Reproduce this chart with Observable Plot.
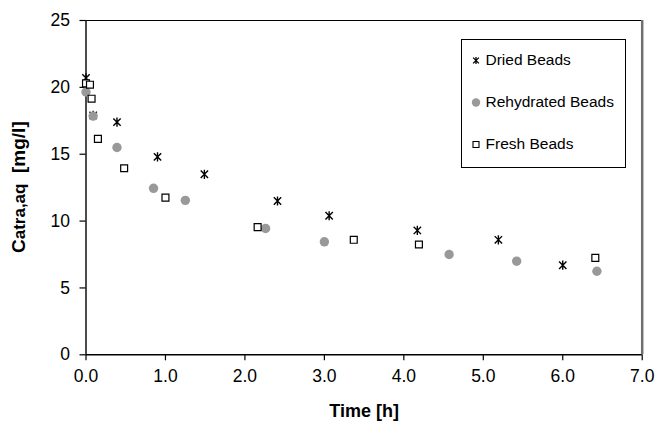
<!DOCTYPE html>
<html>
<head>
<meta charset="utf-8">
<script src="https://cdn.jsdelivr.net/npm/d3@7"></script>
<script src="https://cdn.jsdelivr.net/npm/@observablehq/plot@0.6"></script>
<style>
  html, body { margin: 0; padding: 0; background: white; }
</style>
</head>
<body>
<div id="chart"></div>
<script>
// ---- data ----
const seriesNames = ["Dried Beads", "Rehydrated Beads", "Fresh Beads"];

const driedTime = [0.00, 0.09, 0.39, 0.90, 1.49, 2.41, 3.06, 4.17, 5.19, 6.00];
const driedConc = [20.7, 17.9, 17.4, 14.8, 13.5, 11.5, 10.4, 9.3, 8.6, 6.7];

const rehydTime = [0.00, 0.09, 0.39, 0.85, 1.25, 2.26, 3.00, 4.57, 5.42, 6.43];
const rehydConc = [19.65, 17.85, 15.5, 12.45, 11.55, 9.45, 8.45, 7.5, 7.0, 6.25];

const freshTime = [0.00, 0.05, 0.07, 0.15, 0.48, 1.00, 2.16, 3.37, 4.19, 6.41];
const freshConc = [20.3, 20.2, 19.15, 16.15, 13.95, 11.75, 9.55, 8.6, 8.25, 7.25];

const xDomain = [0, 7];
const yDomain = [0, 25];
const xTicks = [0, 1, 2, 3, 4, 5, 6, 7];
const yTicks = [0, 5, 10, 15, 20, 25];
const xLabel = "Time [h]";
const yLabelMain = "C";
const yLabelSub = "atra,aq";
const yLabelUnit = "  [mg/l]";

// ---- helpers ----
const toRows = (t, c) => t.map((d, i) => ({time: d, conc: c[i]}));
const dried = toRows(driedTime, driedConc);
const rehyd = toRows(rehydTime, rehydConc);
const fresh = toRows(freshTime, freshConc);

// Excel-like star marker: "x" with a vertical bar
const starSymbol = {
  draw(ctx, size) {
    const r = Math.sqrt(size / Math.PI);
    const a = r * 0.8;
    ctx.moveTo(-a, -a); ctx.lineTo(a, a);
    ctx.moveTo(-a, a); ctx.lineTo(a, -a);
    ctx.moveTo(0, -r); ctx.lineTo(0, r);
  }
};

const FONT = "'Liberation Sans', Arial, Helvetica, sans-serif";
const circleColor = "#999999";

const plot = Plot.plot({
  width: 656,
  height: 428,
  marginLeft: 85.5,
  marginRight: 14.3,
  marginTop: 20,
  marginBottom: 73.7,
  x: {domain: xDomain},
  y: {domain: yDomain},
  style: {fontFamily: FONT, background: "white", color: "black"},
  marks: [
    Plot.ruleY([yDomain[1]], {stroke: "black", strokeWidth: 1.2}),
    Plot.axisX({ticks: xTicks, tickFormat: d => d.toFixed(1), tickSize: 6, tickPadding: 9,
                fontSize: 17.5, label: null, strokeWidth: 1.2}),
    Plot.axisY({ticks: yTicks, tickSize: 6, tickPadding: 10, fontSize: 17.5, label: null, strokeWidth: 1.2}),
    Plot.ruleX([xDomain[1]], {stroke: "#707070", strokeWidth: 2.5, y1: yDomain[0], y2: yDomain[1]}),
    Plot.ruleX([xDomain[0]], {stroke: "black", strokeWidth: 1.4}),
    Plot.ruleY([yDomain[0]], {stroke: "black", strokeWidth: 1.4}),
    Plot.dot(dried, {x: "time", y: "conc", symbol: starSymbol, r: 4.6, fill: "none", stroke: "black", strokeWidth: 1.4}),
    Plot.dot(rehyd, {x: "time", y: "conc", symbol: "circle", r: 4.7, fill: circleColor, stroke: "none"}),
    Plot.dot(fresh, {x: "time", y: "conc", symbol: "square", r: 3.9, fill: "white", stroke: "black", strokeWidth: 1.2}),
    Plot.text([xLabel], {frameAnchor: "bottom", dy: 62, fontWeight: "bold", fontSize: 18})
  ]
});

const svg = d3.select(plot);

// y-axis title with smaller "atra,aq" part
const yt = svg.append("text")
  .attr("transform", `translate(25, ${(20 + 354.3) / 2}) rotate(-90)`)
  .attr("text-anchor", "middle")
  .attr("font-family", FONT)
  .attr("font-weight", "bold")
  .attr("font-size", 19)
  .style("white-space", "pre")
  .attr("fill", "black");
yt.append("tspan").text(yLabelMain);
yt.append("tspan").attr("font-size", 17).text(yLabelSub);
yt.append("tspan").text(yLabelUnit);

// legend
const lg = svg.append("g").attr("font-family", FONT).attr("font-size", 15.5).attr("text-anchor", "start");
lg.append("rect").attr("x", 461.5).attr("y", 39.5).attr("width", 164).attr("height", 128)
  .attr("fill", "white").attr("stroke", "black").attr("stroke-width", 1);
const legendSymbols = [
  {type: starSymbol, size: Math.PI * 3.6 * 3.6, fill: "none", stroke: "black", sw: 1.3},
  {type: d3.symbolCircle, size: Math.PI * 4.2 * 4.2, fill: circleColor, stroke: "none", sw: 0},
  {type: d3.symbolSquare, size: 36, fill: "white", stroke: "black", sw: 1.1}
];
seriesNames.forEach((name, i) => {
  const cy = 59.5 + i * 42;
  const s = legendSymbols[i];
  lg.append("path")
    .attr("transform", `translate(476, ${cy + 1})`)
    .attr("d", d3.symbol(s.type, s.size)())
    .attr("fill", s.fill).attr("stroke", s.stroke).attr("stroke-width", s.sw);
  lg.append("text").attr("x", 485.5).attr("y", cy).attr("dy", "0.35em")
    .attr("text-anchor", "start").attr("fill", "black").text(name);
});

document.getElementById("chart").appendChild(plot);
</script>
</body>
</html>
